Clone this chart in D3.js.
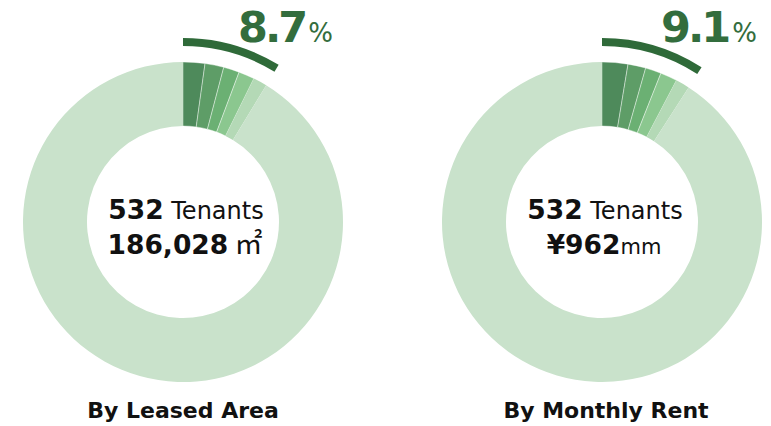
<!DOCTYPE html>
<html>
<head>
<meta charset="utf-8">
<script src="https://cdn.jsdelivr.net/npm/d3@7"></script>
<style>
  html, body { margin: 0; padding: 0; background: #fff; }
  svg { display: block; }
</style>
</head>
<body>
<svg id="chart" width="771" height="426"></svg>
<script>
// ---- data ----
const chartTitles = ["By Leased Area", "By Monthly Rent"];
const leasedAreaShares = [2.2, 1.9, 1.6, 1.6, 1.4];   // top-5 tenants, % of leased area
const monthlyRentShares = [2.6, 1.8, 1.6, 1.7, 1.4];  // top-5 tenants, % of monthly rent
const topTotals = ["8.7", "9.1"];
const tenantCounts = ["532", "532"];
const centerValues = ["186,028", "¥962"];
const centerUnits = ["㎡", "mm"];

const sliceColors = ["#4e8a5b", "#5e9d67", "#6bb073", "#8bc78f", "#b4d9b6"];
const restColor = "#c9e2cb";
const arcColor = "#2f6a39";
const labelColor = "#336d3d";

const svg = d3.select("#chart");
const centersX = d3.scalePoint().domain([0, 1]).range([183, 602]);
const cy = 222;
const outerR = 160, innerR = 96;
const font = "'DejaVu Sans', Verdana, sans-serif";

const pie = d3.pie().sort(null).value(d => d.v).startAngle(0).endAngle(2 * Math.PI);
const arc = d3.arc().innerRadius(innerR).outerRadius(outerR);
const bandArc = d3.arc().innerRadius(176).outerRadius(184);

[leasedAreaShares, monthlyRentShares].forEach((shares, i) => {
  const cx = centersX(i);
  const rest = 100 - d3.sum(shares);
  const data = shares.map((v, k) => ({ v, c: sliceColors[k] })).concat([{ v: rest, c: restColor }]);
  const g = svg.append("g").attr("transform", `translate(${cx},${cy})`);
  const arcs = pie(data);
  g.selectAll("path.slice").data(arcs).join("path")
    .attr("class", "slice")
    .attr("d", arc)
    .attr("fill", d => d.data.c)
    .attr("stroke", (d, k) => k < shares.length - 1 ? "rgba(255,255,255,0.5)" : "none")
    .attr("stroke-width", 0.8);

  // outer highlight band spanning the top-5 share
  const topEnd = arcs[shares.length - 1].endAngle;
  g.append("path")
    .attr("d", bandArc({ startAngle: 0, endAngle: topEnd }))
    .attr("fill", arcColor);

  // percentage label
  const lbl = g.append("text")
    .attr("x", 55 + (i ? 4 : 0)).attr("y", -180)
    .attr("font-family", font)
    .attr("fill", labelColor);
  lbl.append("tspan").text(topTotals[i])
    .attr("font-size", 43).attr("font-weight", "bold").attr("letter-spacing", -3);
  lbl.append("tspan").text("%")
    .attr("font-size", 26).attr("dx", i ? 4 : 3);

  // center text
  const t1 = g.append("text").attr("text-anchor", "middle").attr("x", 3).attr("y", -3)
    .attr("font-family", font).attr("fill", "#111");
  t1.append("tspan").text(tenantCounts[i]).attr("font-size", 26.5).attr("font-weight", "bold");
  t1.append("tspan").text(" Tenants").attr("font-size", 24);

  const t2 = g.append("text").attr("text-anchor", "middle").attr("x", 2).attr("y", 32)
    .attr("font-family", font).attr("fill", "#111");
  t2.append("tspan").text(centerValues[i]).attr("font-size", 26.5).attr("font-weight", "bold");
  if (i === 0) {
    t2.append("tspan").text(" " + centerUnits[i]).attr("font-size", 28)
      .attr("font-family", "'Noto Sans CJK JP', 'DejaVu Sans', sans-serif");
  } else {
    t2.append("tspan").text(centerUnits[i]).attr("font-size", 21);
  }

  // title
  svg.append("text")
    .attr("x", cx + (i ? 4 : 0)).attr("y", 418)
    .attr("text-anchor", "middle")
    .attr("font-family", font).attr("font-weight", "bold")
    .attr("font-size", 22).attr("fill", "#111")
    .text(chartTitles[i]);
});
</script>
</body>
</html>
